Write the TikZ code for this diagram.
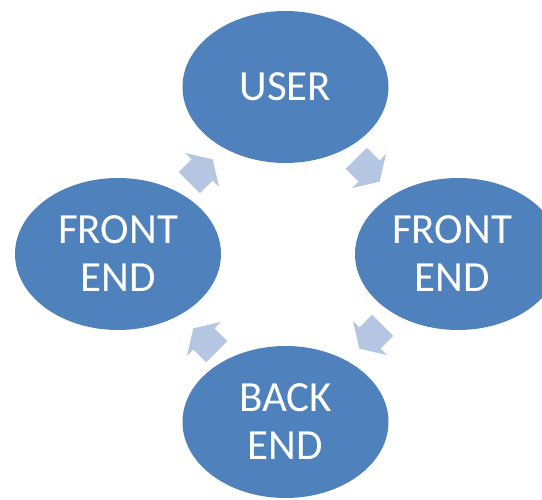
\documentclass[tikz,border=0pt]{standalone}
\usepackage{fontspec}
\setmainfont{Carlito}
\usetikzlibrary{shapes.geometric}
\definecolor{ellblue}{HTML}{4F81BD}
\definecolor{arrblue}{HTML}{B4C6E1}
\tikzset{
  bubble/.style={ellipse, fill=ellblue, draw=none, minimum width=206pt, minimum height=152pt, inner sep=0pt},
  bubbletext/.style={text=white, align=center, inner sep=0pt, font=\fontsize{43}{48}\selectfont},
  cyclearrow/.style={fill=arrblue, draw=none}
}
\newcommand{\cyclearrowshape}{(-16.5pt,-15pt) -- (1.5pt,-15pt) -- (1.5pt,-24pt) -- (16.5pt,0pt) -- (1.5pt,24pt) -- (1.5pt,15pt) -- (-16.5pt,15pt) -- cycle}
\begin{document}
\begin{tikzpicture}[x=1pt,y=-1pt]
\useasboundingbox (0,0) rectangle (542,500);
\clip (0,0) rectangle (542,500);
\node[bubble] (user) at (285.5,87) {};
\node[bubble] (fer) at (458,254) {};
\node[bubble] (fel) at (118,254) {};
\node[bubble] (be) at (285.5,422) {};
\node[bubbletext] (tuser) at (285.5,87) {USER};
\node[bubbletext] (tfer) at (452,254) {FRONT\\END};
\node[bubbletext] (tfel) at (118,254) {FRONT\\END};
\node[bubbletext] (tbe) at (285.5,422) {BACK\\END};
\begin{scope}[shift={(368,170)}, rotate=-45]
  \fill[cyclearrow] \cyclearrowshape;
\end{scope}
\begin{scope}[shift={(371,337)}, rotate=-135]
  \fill[cyclearrow] \cyclearrowshape;
\end{scope}
\begin{scope}[shift={(205,340)}, rotate=135]
  \fill[cyclearrow] \cyclearrowshape;
\end{scope}
\begin{scope}[shift={(201,171)}, rotate=45]
  \fill[cyclearrow] \cyclearrowshape;
\end{scope}
\end{tikzpicture}
\end{document}
